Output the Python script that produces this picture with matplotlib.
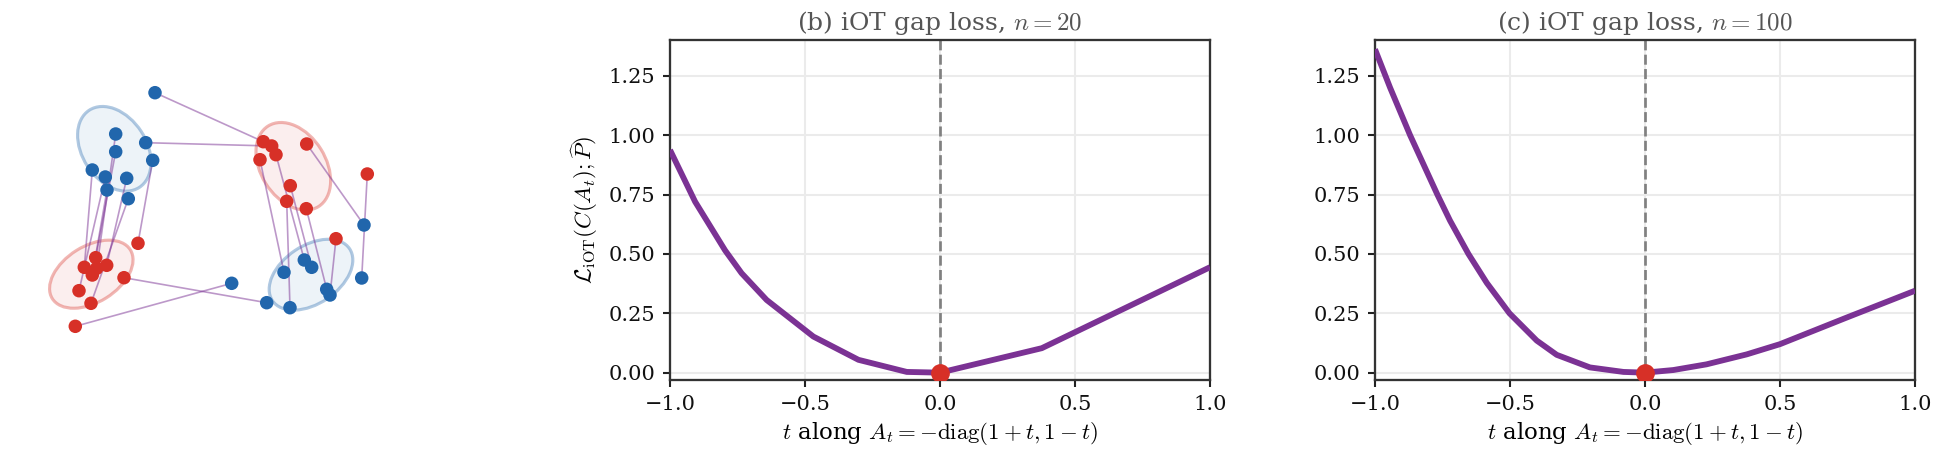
import matplotlib
matplotlib.use('Agg')
import matplotlib.pyplot as plt
from matplotlib.patches import Ellipse

plt.rcParams['font.family'] = ['DejaVu Serif']
plt.rcParams['mathtext.fontset'] = 'cm'

# ---------------- data ----------------
# panel (a): point clouds (picture coordinates, y pointing down)
blue_x = [155, 115.7, 145.7, 115.7, 152.7, 92.3, 105.3, 126.7, 107, 128.3,
          231.7, 284, 304.3, 311.7, 266.7, 290, 326.7, 330, 364, 361.7]
blue_y = [92.7, 134, 142.7, 151.7, 160.3, 170, 177, 178.3, 190, 198.7,
          283.3, 272.3, 260, 267.3, 302.7, 307.7, 289.3, 295, 225, 278]
red_x = [263.3, 271.7, 276, 260, 306.7, 367.3, 290.3, 286.7, 306.3, 336,
         138, 95.7, 84.3, 106.7, 96.7, 92.3, 124, 79, 91, 75.3]
red_y = [141.7, 146, 154.7, 159.7, 144, 174, 185.7, 201.3, 208.7, 238.7,
         243.3, 257.7, 267.3, 265.3, 268.3, 275, 277.7, 290.7, 303.3, 326.3]
# matching pairs (blue index, red index)
pairs = [(0, 0), (2, 1), (18, 4), (19, 5), (11, 3), (12, 2), (13, 6), (15, 7),
         (16, 8), (17, 9), (14, 16), (10, 19), (4, 10), (5, 12), (3, 11),
         (1, 14), (6, 17), (8, 15), (7, 13), (9, 18)]
# Gaussian ellipses: center x, center y, width, height, angle, colour
ell_cx = [114.3, 293.3, 91.3, 311.0]
ell_cy = [148.8, 166.3, 274.2, 274.7]
ell_w = [92, 95, 92, 93]
ell_h = [64, 65, 56, 58]
ell_ang = [57, 58, -32, -34]
ell_col = ['blue', 'red', 'red', 'blue']

# panel (b): iOT gap loss, n = 20
t_b = [-1.0, -0.907, -0.796, -0.735, -0.642, -0.469, -0.302, -0.123, 0.0, 0.377, 1.0]
loss_b = [0.938, 0.720, 0.515, 0.419, 0.306, 0.152, 0.054, 0.003, 0.0, 0.103, 0.444]

# panel (c): iOT gap loss, n = 100
t_c = [-1.0, -0.944, -0.870, -0.769, -0.722, -0.654, -0.586, -0.502, -0.401,
       -0.327, -0.204, -0.080, 0.0, 0.105, 0.228, 0.377, 0.5, 0.747, 1.0]
loss_c = [1.362, 1.20, 1.0, 0.75, 0.64, 0.5, 0.378, 0.25, 0.135,
          0.075, 0.022, 0.003, 0.0, 0.011, 0.035, 0.077, 0.12, 0.232, 0.345]

titles = [r'(b) iOT gap loss, $n=20$', r'(c) iOT gap loss, $n=100$']
xticks = [-1.0, -0.5, 0.0, 0.5, 1.0]
yticks = [0.0, 0.25, 0.5, 0.75, 1.0, 1.25]

BLUE = '#2166ac'
RED = '#d73027'
PURPLE = '#7b3294'
cols = {'blue': BLUE, 'red': RED}

W, H = 1942, 461
fig = plt.figure(figsize=(W / 150, H / 150), dpi=150)

# ---------------- panel (a) ----------------
axa = fig.add_axes([0, 0, 430 / W, 1])
axa.set_xlim(0, 430)
axa.set_ylim(H, 0)
axa.axis('off')
for cx, cy, w, h, a, c in zip(ell_cx, ell_cy, ell_w, ell_h, ell_ang, ell_col):
    axa.add_patch(Ellipse((cx, cy), w, h, angle=a, facecolor=cols[c], alpha=0.08,
                          edgecolor='none', zorder=1))
    axa.add_patch(Ellipse((cx, cy), w, h, angle=a, facecolor='none',
                          edgecolor=cols[c], alpha=0.35, lw=1.5, zorder=1))
for bi, ri in pairs:
    axa.plot([blue_x[bi], red_x[ri]], [blue_y[bi], red_y[ri]], color=PURPLE,
             alpha=0.5, lw=0.8, zorder=2)
axa.scatter(blue_x, blue_y, s=42, color=BLUE, zorder=3, edgecolors='none')
axa.scatter(red_x, red_y, s=42, color=RED, zorder=3, edgecolors='none')

# ---------------- panels (b), (c) ----------------
lefts = [670 / W, 1375 / W]
bottom = 1 - 380 / H
height = 340 / H
width = 540 / W
series = [(t_b, loss_b), (t_c, loss_c)]
for i, (tt, ll) in enumerate(series):
    ax = fig.add_axes([lefts[i], bottom, width, height])
    ax.set_axisbelow(True)
    ax.grid(True, color='#ebebeb', lw=1.0)
    ax.axvline(0.0, color='#808080', ls='--', lw=1.3, zorder=2)
    ax.plot(tt, ll, color=PURPLE, lw=2.8, zorder=3, solid_joinstyle='round',
            solid_capstyle='butt')
    ax.plot([0.0], [0.0], 'o', color=RED, ms=8, zorder=4)
    ax.set_xlim(-1, 1)
    ax.set_ylim(-0.031, 1.401)
    ax.set_xticks(xticks)
    ax.set_yticks(yticks)
    ax.set_xticklabels([f'{v:.1f}'.replace('-', '\u2212') for v in xticks])
    ax.set_yticklabels([f'{v:.2f}' for v in yticks])
    ax.tick_params(labelsize=10, direction='out', length=3.5, width=1.0,
                   color='#222222', labelcolor='#111111')
    for s in ax.spines.values():
        s.set_color('#333333')
        s.set_linewidth(1.1)
    ax.set_title(titles[i], fontsize=12, color='#555555', pad=5)
    ax.set_xlabel(r'$t$ along $A_t = -\mathrm{diag}(1+t, 1-t)$', fontsize=11,
                  labelpad=3)
    if i == 0:
        ax.set_ylabel(r'$\mathcal{L}_{\mathrm{iOT}}(C(A_t);\widehat{P})$',
                      fontsize=11)

fig.savefig('out.png', dpi=150)
